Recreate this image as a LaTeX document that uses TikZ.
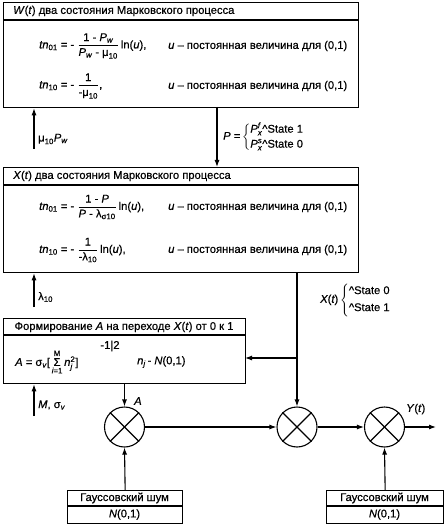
\documentclass[tikz,border=0pt]{standalone}
\usepackage{amsmath}
\usepackage{fontspec}
\setmainfont{Liberation Sans}[FakeBold=0.5]
\usetikzlibrary{arrows.meta}
\newcommand{\ti}[1]{\text{\itshape #1}}
\newcommand{\tr}[1]{\text{#1}}
\begin{document}
\begin{tikzpicture}[x=1pt,y=-1pt,
  font=\fontsize{11.2}{13}\selectfont,
  boxline/.style={line width=1.3pt},
  frame/.style={boxline,draw,rectangle,anchor=north west,inner sep=0pt},
  conn/.style={line width=1.1pt,-{Latex[length=7pt,width=5pt]}},
  plain/.style={line width=1.1pt},
  mult/.style={circle,draw,line width=1.1pt,minimum size=40pt,inner sep=0pt},
  lbl/.style={inner sep=0pt,anchor=west},
  ctr/.style={inner sep=0pt}]
\useasboundingbox (0,0) rectangle (447,526);
% ---- W box
\node[frame,minimum width=355pt,minimum height=105pt] (W) at (3,2) {};
\draw[boxline] (3,20) -- (358,20);
\node[lbl] (Wh) at (13,11) {\textit{W}(\textit{t}) два состояния Марковского процесса};
\node[lbl] (W1) at (39,46) {$\ti{tn}_{\tr{01}}\tr{ = - }\dfrac{\tr{1 - }\ti{P}_{\ti{w}}}{\ti{P}_{\ti{w}}\tr{ - μ}_{\tr{10}}}\,\tr{ln(}\ti{u}\tr{),}$};
\node[lbl] (W1u) at (168,46) {\textit{u} – постоянная величина для (0,1)};
\node[lbl] (W2) at (39,86) {$\ti{tn}_{\tr{10}}\tr{ = - }\dfrac{\tr{1}}{\tr{-μ}_{\tr{10}}}\tr{,}$};
\node[lbl] (W2u) at (168,86) {\textit{u} – постоянная величина для (0,1)};
% ---- X box
\node[frame,minimum width=355pt,minimum height=105pt] (X) at (3,167) {};
\draw[boxline] (3,185) -- (358,185);
\node[lbl] (Xh) at (13,176) {\textit{X}(\textit{t}) два состояния Марковского процесса};
\node[lbl] (X1) at (39,207) {$\ti{tn}_{\tr{01}}\tr{ = - }\dfrac{\tr{1 - }\ti{P}}{\ti{P}\tr{ - λ}_{\tr{σ10}}}\,\tr{ln(}\ti{u}\tr{),}$};
\node[lbl] (X1u) at (168,207) {\textit{u} – постоянная величина для (0,1)};
\node[lbl] (X2) at (39,250) {$\ti{tn}_{\tr{10}}\tr{ = - }\dfrac{\tr{1}}{\tr{-λ}_{\tr{10}}}\,\tr{ln(}\ti{u}\tr{),}$};
\node[lbl] (X2u) at (168,250) {\textit{u} – постоянная величина для (0,1)};
% ---- A box
\node[frame,minimum width=242pt,minimum height=65pt] (Ab) at (3,318) {};
\draw[boxline] (3,335) -- (245,335);
\node[ctr] (Ah) at (124,327) {Формирование \textit{A} на переходе \textit{X}(\textit{t}) от 0 к 1};
\node[lbl] (Af) at (15,362) {$\ti{A}\tr{ = σ}_{\ti{v}}\tr{[}\mathop{\tr{Σ}}\limits_{\ti{i}\tr{=1}}^{\tr{M}}\ti{n}_{\ti{j}}^{\tr{2}}\tr{]}$};
\node[ctr] (Aexp) at (110,346) {-1|2};
\node[lbl] (An) at (137,362) {$\ti{n}_{\ti{j}}$\,- \textit{N}(0,1)};
% ---- Gaussian noise boxes
\node[frame,minimum width=115pt,minimum height=33pt] (G1) at (67,490) {};
\draw[boxline] (67,506) -- (182,506);
\node[ctr] (G1a) at (124.5,498) {Гауссовский шум};
\node[ctr] (G1b) at (124.5,514.5) {\textit{N}(0,1)};
\node[frame,minimum width=117pt,minimum height=33pt] (G2) at (326,490) {};
\draw[boxline] (326,506) -- (443,506);
\node[ctr] (G2a) at (384.5,498) {Гауссовский шум};
\node[ctr] (G2b) at (384.5,514.5) {\textit{N}(0,1)};
% ---- multipliers
\node[mult] (c1) at (124.5,427) {};
\node[mult] (c2) at (297,427) {};
\node[mult] (c3) at (384.5,427) {};
\foreach \c in {c1,c2,c3}{
  \draw[plain] (\c.45) -- (\c.225);
  \draw[plain] (\c.135) -- (\c.315);
}
% ---- free ends
\coordinate (mu0) at (34,149);
\coordinate (la0) at (34,307);
\coordinate (M0) at (34,416);
\coordinate (Pout) at (217,107);
\coordinate (Pin) at (217,167);
\coordinate (Xout) at (297,272);
\coordinate (br) at (297,358);
\coordinate (Ain) at (245,358);
\coordinate (Aout) at (124.5,383);
\coordinate (Yend) at (436,427);
% ---- connectors
\draw[conn] (mu0) -- (mu0 |- W.south);
\draw[conn] (la0) -- (la0 |- X.south);
\draw[conn] (M0) -- (M0 |- Ab.south);
\draw[conn] (Pout) -- (Pin);
\draw[plain] (Xout) -- (br);
\draw[conn] (br) -- (c2.north);
\draw[conn] (br) -- (Ain);
\draw[conn] (Aout) -- (c1.north);
\draw[conn] (G1.north) -- (c1.south);
\draw[conn] (G2.north) -- (c3.south);
\draw[conn] (c1.east) -- (c2.west);
\draw[conn] (c2.east) -- (c3.west);
\draw[conn] (c3.east) -- (Yend);
% ---- labels
\node[lbl] (mulbl) at (38,139) {$\tr{μ}_{\tr{10}}\ti{P}_{\ti{w}}$};
\node[lbl] (lalbl) at (38,297) {$\tr{λ}_{\tr{10}}$};
\node[lbl] (Mlbl) at (38,405) {\textit{M}, $\tr{σ}_{\ti{v}}$};
\node[lbl] (Albl) at (134,401) {\textit{A}};
\node[lbl] (Ylbl) at (406,409) {\textit{Y}(\textit{t})};
\node[lbl] (Plbl) at (223,137) {$\ti{P}\tr{ =}\left\{\begin{array}{@{}l@{}}\ti{P}^{\ti{f}}_{\ti{x}}\tr{\textasciicircum State 1}\\[2pt] \ti{P}^{\ti{s}}_{\ti{x}}\tr{\textasciicircum State 0}\end{array}\right.$};
\node[lbl] (Xlbl) at (320,300) {$\ti{X}\tr{(}\ti{t}\tr{)}\left\{\begin{array}{@{}l@{}}\tr{\textasciicircum State 0}\\[4pt] \tr{\textasciicircum State 1}\end{array}\right.$};
\end{tikzpicture}
\end{document}
